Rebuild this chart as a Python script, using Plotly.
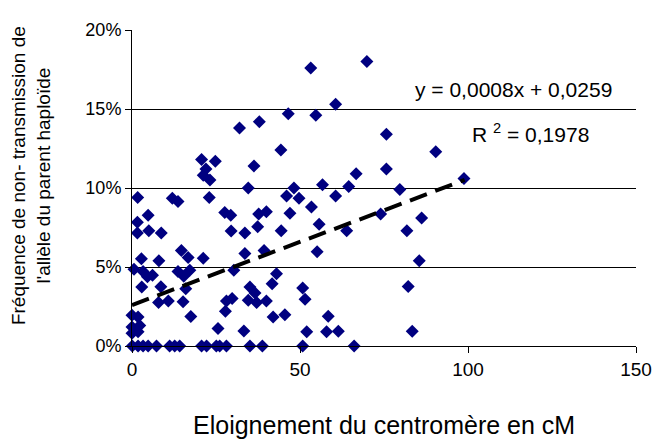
import plotly.graph_objects as go

# distance from centromere (cM)
x_cm = [
    46.5, 37.9, 32.0, 44.3, 20.7, 24.8, 36.3, 22.0, 21.2, 23.2, 34.6, 48.2,
    53.2, 69.9, 54.7, 60.6, 75.7, 90.4, 75.7, 66.7, 98.8, 56.7, 64.5, 79.7,
    49.7, 47.0, 60.6, 53.4, 55.7, 63.9, 74.0, 86.2, 81.8, 55.1, 85.5, 82.2,
    50.8, 51.5, 58.4, 52.0, 57.9, 61.4, 83.4,
    1.7, 12.0, 13.7, 23.0, 46.0, 27.6, 29.4, 37.7, 40.0,
    4.8, 1.6, 1.6, 5.0, 8.7, 29.5, 33.6, 37.4, 44.4,
    14.7, 16.7, 21.2, 2.8, 8.0, 33.6, 39.3,
    0.6, 3.3, 4.6, 6.1, 2.9, 8.6, 13.7, 15.4, 17.2, 16.0, 30.3, 43.0, 41.7,
    35.1, 36.6, 34.6, 37.1, 40.0, 28.1, 29.8, 27.8,
    7.9, 10.8, 15.2, 17.5,
    0.0, 1.8, 0.0, 2.3, 0.0, 1.8, 25.6, 33.3, 42.0, 45.5,
    0.1, 1.8, 3.3, 4.8, 7.3, 11.2, 12.7, 14.2, 20.7, 22.2, 25.1, 26.1, 28.1,
    35.1, 38.8, 50.8, 66.1,
]
# non-transmission frequency (%)
y_pct = [
    14.7, 14.2, 13.8, 12.4, 11.8, 11.7, 11.4, 11.2, 10.8, 10.5, 10.0, 10.0,
    17.6, 18.0, 14.6, 15.3, 13.4, 12.3, 11.2, 10.9, 10.6, 10.2, 10.1, 9.9,
    9.35, 8.4, 9.5, 8.8, 7.7, 7.3, 8.35, 8.1, 7.3, 5.97, 5.4, 3.77,
    3.67, 2.96, 1.89, 0.9, 0.9, 0.94, 0.94,
    9.4, 9.35, 9.14, 9.4, 9.5, 8.45, 8.27, 8.35, 8.5,
    8.28, 7.83, 7.15, 7.3, 7.15, 7.28, 7.15, 7.55, 7.3,
    6.04, 5.6, 5.55, 5.52, 5.4, 5.85, 6.04,
    4.85, 4.72, 4.38, 4.47, 3.73, 3.75, 4.72, 4.42, 4.8, 3.62, 4.8, 4.57, 3.94,
    3.73, 3.35, 2.9, 2.75, 2.85, 2.85, 3.0, 2.2,
    2.75, 2.85, 2.8, 1.87,
    1.95, 1.84, 1.2, 1.3, 0.8, 0.9, 1.1, 0.95, 1.84, 1.97,
    0, 0, 0, 0, 0, 0, 0, 0, 0, 0, 0, 0, 0,
    0, 0, 0, 0,
]

slope = 0.0008
intercept = 0.0259
trend_x = [0, 99]
trend_y = [intercept + slope * v for v in trend_x]

x_ticks = [0, 50, 100, 150]
y_ticks = [0, 0.05, 0.10, 0.15, 0.20]

FONT = "Liberation Sans, Arial, sans-serif"

# plot area sits at screen x 132..636, y 28..346 (page body has an 8px margin)
fig = go.Figure()
fig.add_trace(go.Scatter(
    x=x_cm, y=[v / 100 for v in y_pct], mode="markers",
    marker=dict(symbol="diamond", size=10, color="#000080", line=dict(width=0)),
    cliponaxis=False, showlegend=False,
))
fig.add_trace(go.Scatter(
    x=trend_x, y=trend_y, mode="lines",
    line=dict(color="black", width=4, dash="18px,9px"),
    showlegend=False, cliponaxis=False,
))

fig.update_layout(
    width=664, height=446,
    margin=dict(l=124, r=36, t=20, b=108),
    paper_bgcolor="white", plot_bgcolor="white",
    font=dict(family=FONT, size=18, color="black"),
    xaxis=dict(range=[0, 150], tickvals=x_ticks, showgrid=False, zeroline=False,
               showline=True, linecolor="black", linewidth=1,
               ticks="outside", ticklen=6, tickcolor="black",
               tickfont=dict(size=19)),
    yaxis=dict(range=[0, 0.2], tickvals=y_ticks, tickformat=".0%",
               showgrid=True, gridcolor="black", gridwidth=1, zeroline=False,
               showline=True, linecolor="black", linewidth=1,
               ticks="outside", ticklen=6, tickcolor="black",
               tickfont=dict(size=18)),
    annotations=[
        dict(text="Fréquence de non- transmission de<br>l'allèle du parent haploïde",
             xref="paper", yref="paper", x=(31 - 132) / 504, y=(346 - 175) / 318,
             xanchor="center", yanchor="middle", textangle=-90, showarrow=False,
             font=dict(size=19)),
        dict(text="Eloignement du centromère en cM",
             xref="paper", yref="paper", x=0.5, y=(346 - 425) / 318,
             xanchor="center", yanchor="middle", showarrow=False,
             font=dict(size=25)),
        dict(text="y = 0,0008x + 0,0259", xref="paper", yref="paper",
             x=(513 - 132) / 504, y=(346 - 88) / 318, xanchor="center", yanchor="middle",
             showarrow=False, font=dict(size=21)),
        dict(text="R <sup>2</sup> = 0,1978", xref="paper", yref="paper",
             x=(530 - 132) / 504, y=(346 - 132) / 318, xanchor="center", yanchor="middle",
             showarrow=False, font=dict(size=21)),
    ],
)

fig.write_html("out.html")
